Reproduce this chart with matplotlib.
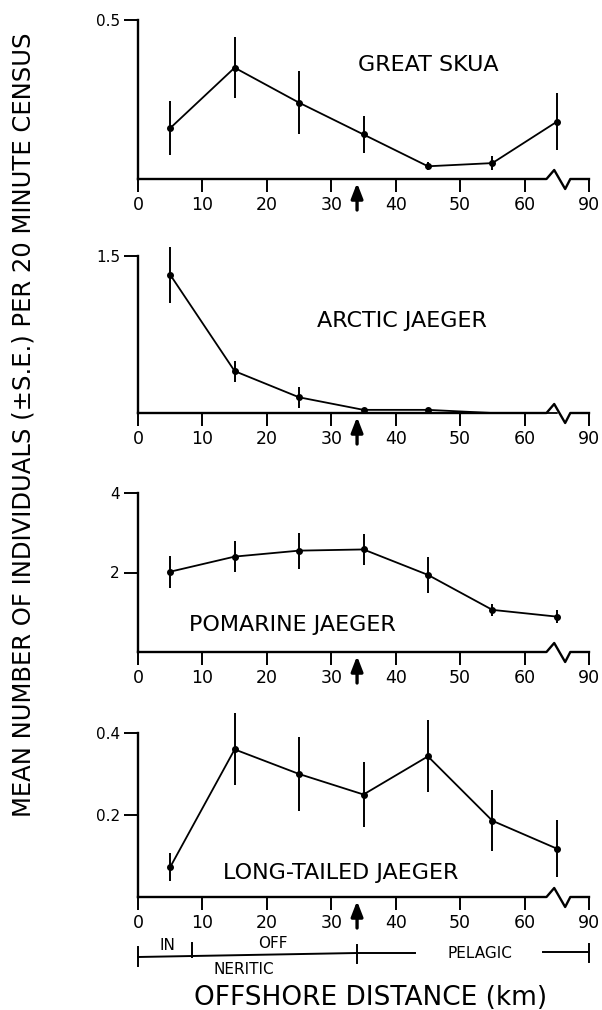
import numpy as np
import matplotlib
matplotlib.use('Agg')
import matplotlib.pyplot as plt
from matplotlib import transforms

# distance class midpoints (km); last class plotted at 65 behind the axis break
dist = [5, 15, 25, 35, 45, 55, 65]
xticks = [0, 10, 20, 30, 40, 50, 60, 70]
xticklabels = ['0', '10', '20', '30', '40', '50', '60', '90']

skua_mean = [0.16, 0.35, 0.24, 0.14, 0.04, 0.05, 0.18]
skua_se = [0.085, 0.095, 0.10, 0.058, 0.013, 0.022, 0.09]

arctic_mean = [1.32, 0.40, 0.15, 0.03, 0.03, 0.0, 0.0]
arctic_se = [0.27, 0.10, 0.10, 0.02, 0.02, 0.0, 0.0]

pomarine_mean = [2.02, 2.40, 2.55, 2.58, 1.94, 1.06, 0.89]
pomarine_se = [0.40, 0.38, 0.45, 0.38, 0.45, 0.16, 0.17]

longtail_mean = [0.073, 0.36, 0.30, 0.25, 0.343, 0.186, 0.118]
longtail_se = [0.035, 0.088, 0.09, 0.08, 0.088, 0.074, 0.07]

shelf_break = 34  # arrow position

W, H = 602, 1010
fig = plt.figure(figsize=(W / 100, H / 100), dpi=100)

x0_px, x1_px = 138, 589

# (name, means, se, axis-line pixel, px per unit, ylim top, yticks, yticklabels, title pos)
panels = [
    ('GREAT SKUA', skua_mean, skua_se, 179, 318.0, 0.54, [0.5], ['0.5'], (45, 0.36)),
    ('ARCTIC JAEGER', arctic_mean, arctic_se, 413, 104.7, 1.62, [1.5], ['1.5'], (41, 0.88)),
    ('POMARINE JAEGER', pomarine_mean, pomarine_se, 652, 39.75, 4.2, [2, 4], ['2', '4'], (24, 0.68)),
    ('LONG-TAILED JAEGER', longtail_mean, longtail_se, 897, 410.0, 0.47, [0.2, 0.4], ['0.2', '0.4'], (31.5, 0.059)),
]

axes = []
for name, m, se, base_px, scale, ytop, yt, ytl, tpos in panels:
    h_px = ytop * scale
    ax = fig.add_axes([x0_px / W, 1 - base_px / H, (x1_px - x0_px) / W, h_px / H])
    ax.set_xlim(0, 70)
    ax.set_ylim(0, ytop)
    ax.patch.set_visible(False)

    mark = [i for i, v in enumerate(m) if v > 0]
    ax.errorbar(dist, m, yerr=se, fmt='-o', color='black', ms=4, lw=1.3,
                elinewidth=1.4, capsize=0, markevery=mark, clip_on=False)

    for s in ['top', 'right', 'bottom']:
        ax.spines[s].set_visible(False)
    ax.spines['left'].set_linewidth(1.7)
    ax.spines['left'].set_bounds(0, yt[-1])

    ax.set_yticks(yt)
    ax.set_yticklabels(ytl, fontsize=11)
    ax.tick_params(axis='y', length=10, width=1.4, pad=3)
    ax.set_xticks(xticks)
    ax.set_xticklabels(xticklabels, fontsize=12.5)
    ax.tick_params(axis='x', length=9, width=1.4, pad=3)

    # x axis line with break before the last class
    tr = transforms.blended_transform_factory(ax.transData, ax.transAxes)
    px = 1.0 / h_px
    bx = [0, 63.4, 64.6, 66.3, 67.1, 70]
    by = [0, 0, 9 * px, -10 * px, 0, 0]
    ax.plot(bx, by, color='black', lw=1.7, transform=tr, clip_on=False)

    # shelf break arrow
    ax.annotate('', xy=(shelf_break, -4 * px), xycoords=tr,
                xytext=(shelf_break, -31 * px), textcoords=tr,
                arrowprops=dict(arrowstyle='-|>,head_length=0.9,head_width=0.35',
                                color='black', lw=2.4, shrinkA=0, shrinkB=0),
                annotation_clip=False)

    ax.text(tpos[0], tpos[1], name, ha='center', va='center', fontsize=16)
    axes.append(ax)

ax4 = axes[-1]

# zone bar under the bottom panel
ztr = transforms.blended_transform_factory(ax4.transData, fig.transFigure)


def fy(p):
    return 1 - p / H


zline = dict(color='black', lw=1.4, clip_on=False, transform=ztr)
ax4.plot([0, 34], [fy(957), fy(953)], **zline)
ax4.plot([34, 43], [fy(953), fy(953)], **zline)
ax4.plot([62.9, 70], [fy(952), fy(952)], **zline)
ax4.plot([0, 0], [fy(947), fy(966)], **zline)
ax4.plot([8.4, 8.4], [fy(943), fy(957)], **zline)
ax4.plot([34, 34], [fy(945), fy(963)], **zline)
ax4.plot([70, 70], [fy(944), fy(962)], **zline)

zfont = dict(fontsize=11, ha='center', va='center', transform=ztr)
ax4.text(4.5, fy(945), 'IN', **zfont)
ax4.text(21, fy(943), 'OFF', **zfont)
ax4.text(16.5, fy(969), 'NERITIC', **zfont)
ax4.text(53, fy(953), 'PELAGIC', **zfont)

fig.text(371 / W, fy(998), 'OFFSHORE DISTANCE (km)', ha='center', va='center',
         fontsize=19)
fig.text(24 / W, fy(425), 'MEAN NUMBER OF INDIVIDUALS (\u00b1S.E.) PER 20 MINUTE CENSUS',
         ha='center', va='center', rotation=90, fontsize=17.5)

fig.savefig('out.png', dpi=100)
